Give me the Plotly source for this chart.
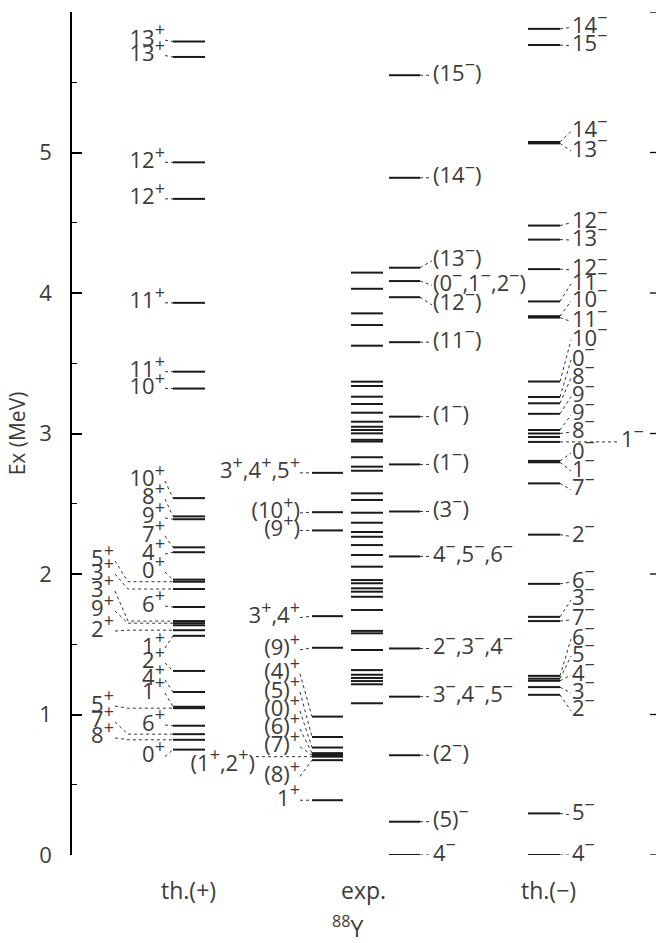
import plotly.graph_objects as go

# ---------------- data (excitation energies in MeV, spin-parity labels) ----------------
thp_energy = [5.79, 5.68, 4.93, 4.67, 3.93, 3.44, 3.32, 2.54, 2.41, 2.39, 2.19, 2.155,
              1.96, 1.945, 1.893, 1.765, 1.665, 1.65, 1.635, 1.60, 1.56, 1.31, 1.16,
              1.055, 1.045, 0.92, 0.86, 0.82, 0.75]
thp_label = ["13+", "13+", "12+", "12+", "11+", "11+", "10+", "10+", "8+", "9+", "7+", "4+",
             "0+", "5+", "3+", "6+", "3+", "9+", "", "2+", "1+", "2+", "4+",
             "1+", "5+", "6+", "7+", "8+", "0+"]

exp_left_energy = [2.72, 2.44, 2.31, 1.70, 1.475, 0.985, 0.84, 0.765, 0.725, 0.712, 0.70, 0.675, 0.39]
exp_left_label = ["3+,4+,5+", "(10+)", "(9+)", "3+,4+", "(9)+", "(4)+", "(5)+", "(0)+", "(6)+",
                  "(7)+", "(1+,2+)", "(8)+", "1+"]

exp_mid_energy = [4.145, 4.03, 3.855, 3.772, 3.625, 3.369, 3.338, 3.262, 3.21, 3.148, 3.084,
                  3.048, 3.025, 3.001, 2.955, 2.943, 2.831, 2.764, 2.735, 2.574, 2.527, 2.436,
                  2.365, 2.299, 2.265, 2.206, 2.135, 2.052, 1.957, 1.934, 1.898, 1.874, 1.838,
                  1.744, 1.595, 1.578, 1.459, 1.316, 1.283, 1.26, 1.238, 1.215, 1.08]

exp_right_energy = [5.55, 4.82, 4.18, 4.085, 3.97, 3.65, 3.12, 2.78, 2.445, 2.125, 1.47, 1.127,
                    0.71, 0.237, 0.0]
exp_right_label = ["(15-)", "(14-)", "(13-)", "(0-,1-,2-)", "(12-)", "(11-)", "(1-)", "(1-)", "(3-)",
                   "4-,5-,6-", "2-,3-,4-", "3-,4-,5-", "(2-)", "(5)-", "4-"]

thm_energy = [5.88, 5.765, 5.075, 5.065, 4.48, 4.38, 4.17, 3.94, 3.835, 3.825, 3.37, 3.26, 3.215,
              3.14, 3.025, 3.0, 2.975, 2.94, 2.805, 2.795, 2.645, 2.28, 1.93, 1.695, 1.665,
              1.275, 1.255, 1.24, 1.195, 1.14, 0.296, 0.0]
thm_label = ["14-", "15-", "14-", "13-", "12-", "13-", "12-", "11-", "10-", "11-", "10-", "0-", "8-",
             "9-", "9-", "8-", "", "1-", "0-", "1-", "7-", "2-", "6-", "3-", "7-",
             "6-", "5-", "4-", "3-", "2-", "5-", "4-"]

y_ticks = [0, 1, 2, 3, 4, 5, 6]
column_names = ["th.(+)", "exp.", "<sup>88</sup>Y", "th.(\u2212)"]

# ---------------- layout: label placement (MeV) and columns (px units on x) ----------------
thp_label_y = [5.80, 5.69, 4.93, 4.67, 3.93, 3.44, 3.32, 2.662, 2.534, 2.399, 2.27, 2.142,
               2.014, 2.093, 2.0, 1.772, 1.879, 1.737, None, 1.594, 1.473, 1.367, 1.246,
               1.153, 1.06, 0.925, 0.947, 0.833, 0.70]
thp_outer = [False] * 13 + [True, True, False, True, True, False, True] + [False] * 4 + \
            [True, False, True, True, False]
exp_left_label_y = [2.72, 2.435, 2.31, 1.69, 1.46, 1.29, 1.16, 1.025, 0.897, 0.77, 0.64, 0.56, 0.39]
exp_left_outer = [False] * 10 + [True, False, False]
exp_right_label_y = [5.55, 4.82, 4.23, 4.055, 3.915, 3.65, 3.12, 2.78, 2.445, 2.125, 1.47, 1.127,
                     0.71, 0.237, 0.0]
thm_label_y = [5.89, 5.76, 5.15, 5.01, 4.50, 4.377, 4.164, 4.064, 3.943, 3.797, 3.665, 3.523,
               3.395, 3.263, 3.132, 3.01, None, 2.94, 2.86, 2.733, 2.60, 2.267, 1.943, 1.815,
               1.673, 1.537, 1.416, 1.281, 1.153, 1.025, 0.285, 0.0]
thm_far = [False] * 17 + [True] + [False] * 14

X0, X1 = 72, 656
COL_THP = (173, 205)
COL_EXPL = (312, 343)
COL_EXPM = (351, 383)
COL_EXPR = (389, 420)
COL_THM = (528, 560)
RIGHT_TICK = 6

LINE_COLOR = "#1a1a1a"
TEXT_COLOR = "#3c3c3c"
FONT = "Open Sans"
FS = 22
SUP_FS = 18
TXT_PAD = 2     # residual gap plotly leaves between a text point and its text


def sup(s):
    out = []
    for ch in s:
        if ch == "+":
            out.append("<sup><span style='font-size:%dpx;color:%s'>+</span></sup>" % (SUP_FS, TEXT_COLOR))
        elif ch == "-":
            out.append("<sup><span style='font-size:%dpx;color:%s'>\u2212</span></sup>" % (SUP_FS, TEXT_COLOR))
        else:
            out.append(ch)
    return "".join(out)


def level_trace(energies, col):
    xs, ys = [], []
    for e in energies:
        xs += [col[0], col[1], None]
        ys += [e, e, None]
    return go.Scatter(x=xs, y=ys, mode="lines", line=dict(color=LINE_COLOR, width=2),
                      hoverinfo="skip", showlegend=False)


fig = go.Figure()
for en, col in [(thp_energy, COL_THP), (exp_left_energy, COL_EXPL), (exp_mid_energy, COL_EXPM),
                (exp_right_energy, COL_EXPR), (thm_energy, COL_THM)]:
    fig.add_trace(level_trace(en, col))

cx, cy = [], []
tx, ty, tt, tp = [], [], [], []


def add_label(text, lx, ly, pos, path):
    for p in path:
        cx.append(p[0]); cy.append(p[1])
    cx.append(None); cy.append(None)
    shift = TXT_PAD if pos == "middle left" else -TXT_PAD
    tx.append(lx + shift); ty.append(ly); tt.append(sup(text)); tp.append(pos)


# th.(+)
for e, lab, ly, outer in zip(thp_energy, thp_label, thp_label_y, thp_outer):
    if not lab:
        continue
    if outer:
        add_label(lab, 112, ly, "middle left", [(115, ly), (128, e), (COL_THP[0], e)])
    else:
        add_label(lab, 163, ly, "middle left", [(165, ly), (COL_THP[0], e)])

# exp. left (positive parity)
for e, lab, ly, outer in zip(exp_left_energy, exp_left_label, exp_left_label_y, exp_left_outer):
    if outer:
        add_label(lab, 253, ly, "middle left", [(256, e), (COL_EXPL[0], e)])
    else:
        add_label(lab, 298, ly, "middle left", [(300, ly), (COL_EXPL[0], e)])

# exp. right (negative parity)
for e, lab, ly in zip(exp_right_energy, exp_right_label, exp_right_label_y):
    add_label(lab, 435, ly, "middle right", [(COL_EXPR[1], e), (432, ly)])

# th.(-)
for e, lab, ly, far in zip(thm_energy, thm_label, thm_label_y, thm_far):
    if not lab:
        continue
    if far:
        add_label(lab, 623, ly, "middle right", [(COL_THM[1], e), (620, e)])
    else:
        add_label(lab, 574, ly, "middle right", [(COL_THM[1], e), (571, ly)])

fig.add_trace(go.Scatter(x=cx, y=cy, mode="lines",
                         line=dict(color="#333333", width=1, dash="dot"),
                         hoverinfo="skip", showlegend=False))

fig.add_trace(go.Scatter(x=tx, y=ty, text=tt, mode="text", textposition=tp,
                         marker=dict(size=1),
                         textfont=dict(family=FONT, size=FS, color=TEXT_COLOR),
                         cliponaxis=False, hoverinfo="skip", showlegend=False))

# mirrored major ticks on the right-hand side (no axis line there)
rx, ry = [], []
for v in y_ticks:
    rx += [X1 - RIGHT_TICK, X1, None]
    ry += [v, v, None]
fig.add_trace(go.Scatter(x=rx, y=ry, mode="lines", line=dict(color="black", width=1.3),
                         cliponaxis=False, hoverinfo="skip", showlegend=False))

# column names
annotations = []
col_x = [188, 363, 347, 548]
col_y = [-0.042, -0.042, -0.086, -0.042]
for name, x, y in zip(column_names, col_x, col_y):
    annotations.append(dict(x=x, y=y, xref="x", yref="paper", text=name, showarrow=False,
                            xanchor="center", yanchor="middle",
                            font=dict(family=FONT, size=FS + 1, color=TEXT_COLOR)))

fig.update_layout(
    width=656, height=943,
    margin=dict(l=72, r=0, t=12, b=88),
    paper_bgcolor="white", plot_bgcolor="white",
    hovermode=False,
    xaxis=dict(range=[X0, X1], visible=False, fixedrange=True, automargin=False),
    yaxis=dict(range=[0, 6], tickvals=y_ticks, ticks="inside", ticklen=10, tickwidth=1.5,
               tickcolor="black", showline=True, linewidth=1.5, linecolor="black",
               showgrid=False, zeroline=False, ticklabelstandoff=14, automargin=False,
               fixedrange=True,
               tickfont=dict(family=FONT, size=FS, color=TEXT_COLOR),
               minor=dict(dtick=0.5, ticks="inside", ticklen=5, tickwidth=1.2, tickcolor="black"),
               title=dict(text="Ex (MeV)", standoff=8,
                          font=dict(family=FONT, size=FS - 1, color=TEXT_COLOR))),
    annotations=annotations,
)

# the page's default 8px body margin would push the 656x943 figure off its window
fig.write_html("out.html", config={"displayModeBar": False},
               post_script="document.body.style.margin='0';document.body.style.overflow='hidden';")
